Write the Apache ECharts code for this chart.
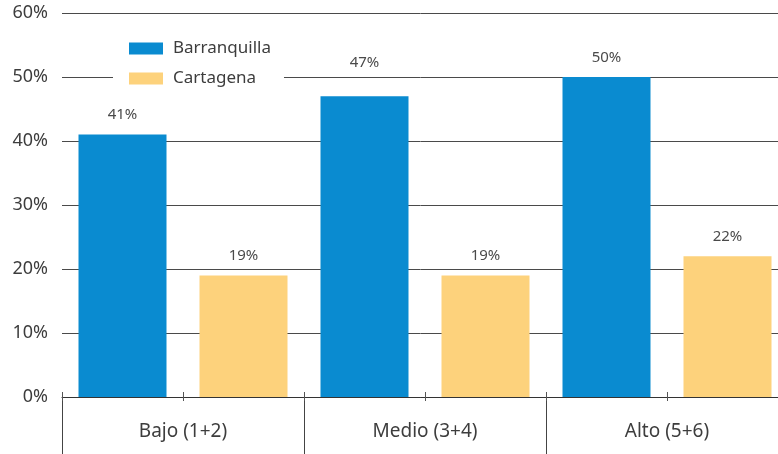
<!DOCTYPE html>
<html>
<head>
<meta charset="utf-8">
<script src="https://cdn.jsdelivr.net/npm/echarts@6/dist/echarts.min.js"></script>
<style>
  html, body { margin: 0; padding: 0; background: #fff; }
  #chart { width: 778px; height: 454px; }
</style>
</head>
<body>
<div id="chart"></div>
<script>
// Grupos socioeconómicos y porcentajes por ciudad
const categories = ['Bajo (1+2)', 'Medio (3+4)', 'Alto (5+6)'];
const barranquilla = [41, 47, 50];
const cartagena = [19, 19, 22];
const yTicks = { min: 0, max: 60, interval: 10 };

const FONT = '"Noto Sans", "Open Sans", sans-serif';
const TEXT = '#3d3d3d';

const chart = echarts.init(document.getElementById('chart'), null, { renderer: 'canvas' });

const barLabel = {
  show: true,
  position: 'top',
  distance: 12,
  formatter: '{c}%',
  fontFamily: FONT,
  fontSize: 15,
  color: '#4a4a4a'
};

// lift a value label clear of the 50% gridline when it would sit on it
function withLabels(values) {
  return values.map(v => {
    const top = v + 12 / 6.4;
    const nearLine = v < 50 && Math.abs(top + 1.3 - 50) < 2.5;
    return nearLine ? { value: v, label: { distance: 26 } } : v;
  });
}

chart.setOption({
  animation: false,
  backgroundColor: '#fff',
  // the plot runs a little past the right edge of the page
  grid: { left: 62, width: 726, top: 13, bottom: 57, containLabel: false, outerBoundsMode: 'none' },
  legend: {
    left: 113,
    top: 30,
    orient: 'vertical',
    itemWidth: 34,
    itemHeight: 12,
    itemGap: 13,
    padding: [10, 13, 10, 16],
    backgroundColor: '#fff',
    icon: 'rect',
    textStyle: { fontFamily: FONT, fontSize: 17, color: TEXT, padding: [0, 0, 0, 5] },
    data: ['Barranquilla', 'Cartagena']
  },
  xAxis: [
    {
      type: 'category',
      data: categories,
      position: 'bottom',
      axisLine: { show: true, lineStyle: { color: '#333', width: 1 } },
      axisTick: { show: true, length: 60, lineStyle: { color: '#444', width: 1 } },
      axisLabel: { fontFamily: FONT, fontSize: 19, color: TEXT, margin: 25 },
      splitLine: { show: false }
    },
    {
      // short marks between the two bars of each group
      type: 'category',
      data: ['', '', '', '', '', ''],
      position: 'bottom',
      offset: -5,
      axisLine: { show: false },
      axisTick: { show: true, length: 9, lineStyle: { color: '#555', width: 1 } },
      axisLabel: { show: false },
      splitLine: { show: false }
    }
  ],
  yAxis: {
    type: 'value',
    min: yTicks.min,
    max: yTicks.max,
    interval: yTicks.interval,
    axisLine: { show: false },
    axisTick: { show: false },
    axisLabel: { formatter: '{value}%', fontFamily: FONT, fontSize: 18, color: TEXT, margin: 14 },
    splitLine: { show: true, lineStyle: { color: '#4a4a4a', width: 1 } }
  },
  series: [
    {
      name: 'Barranquilla',
      type: 'bar',
      xAxisIndex: 0,
      data: withLabels(barranquilla),
      barWidth: 88,
      barGap: '37.5%',
      itemStyle: { color: '#0A8BD0' },
      label: barLabel
    },
    {
      name: 'Cartagena',
      type: 'bar',
      xAxisIndex: 0,
      data: withLabels(cartagena),
      barWidth: 88,
      barGap: '37.5%',
      itemStyle: { color: '#FDD27C' },
      label: barLabel
    }
  ]
});
</script>
</body>
</html>
